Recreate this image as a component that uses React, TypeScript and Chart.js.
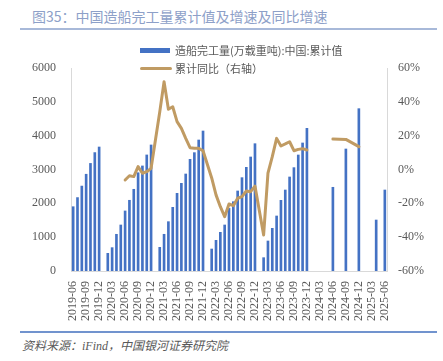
import React, { useEffect, useRef } from "react";
import { Chart, registerables } from "chart.js";

Chart.register(...registerables);

const months: string[] = [
  "2019-06", "2019-07", "2019-08", "2019-09", "2019-10", "2019-11", "2019-12",
  "2020-01", "2020-02", "2020-03", "2020-04", "2020-05", "2020-06", "2020-07", "2020-08", "2020-09", "2020-10", "2020-11", "2020-12",
  "2021-01", "2021-02", "2021-03", "2021-04", "2021-05", "2021-06", "2021-07", "2021-08", "2021-09", "2021-10", "2021-11", "2021-12",
  "2022-01", "2022-02", "2022-03", "2022-04", "2022-05", "2022-06", "2022-07", "2022-08", "2022-09", "2022-10", "2022-11", "2022-12",
  "2023-01", "2023-02", "2023-03", "2023-04", "2023-05", "2023-06", "2023-07", "2023-08", "2023-09", "2023-10", "2023-11", "2023-12",
  "2024-01", "2024-02", "2024-03", "2024-04", "2024-05", "2024-06", "2024-07", "2024-08", "2024-09", "2024-10", "2024-11", "2024-12",
  "2025-01", "2025-02", "2025-03", "2025-04", "2025-05", "2025-06",
];

// 造船完工量(万载重吨):中国:累计值
const completions: (number | null)[] = [
  1900, 2170, 2510, 2860, 3180, 3500, 3665,
  null, 523, 690, 1085, 1360, 1775, 2090, 2415, 2905, 3105, 3430, 3725,
  null, 700, 1085, 1458, 1882, 2296, 2592, 2867, 3301, 3498, 3872, 4138,
  null, 650, 907, 1143, 1360, 1850, 2048, 2365, 2759, 3065, 3370, 3763,
  null, 394, 887, 1261, 1626, 2089, 2394, 2779, 3055, 3429, 3784, 4217,
  null, null, null, null, null, 2474, null, null, 3606, null, null, 4798,
  null, null, null, 1507, null, 2394,
];

// 累计同比（右轴）, %
const yoyGrowth: (number | null)[] = [
  null, null, null, null, null, null, null,
  null, null, null, null, null, -6.2, -3.7, -4.2, 1.7, -2.2, -1.3, 0.7,
  null, 34, 51.9, 35.6, 37.1, 28.3, 24.3, 18.4, 12.9, 12.5, 12.5, 11.1,
  null, -5, -15, -22, -27.9, -20.4, -21.4, -17, -16, -12.7, -13.1, -9.8,
  null, -38.7, -2.2, 7.6, 18.4, 13.9, 15.1, 16.4, 11.1, 11.9, 12.3, 11.5,
  null, null, null, null, null, 18.0, null, null, 17.8, null, null, 13.5,
  null, null, null, null, null, null,
];

const barName = "造船完工量(万载重吨):中国:累计值";
const lineName = "累计同比（右轴）";
const titleText = "图35：中国造船完工量累计值及增速及同比增速";
const sourceText = "资料来源：iFind，中国银河证券研究院";

const BAR_COLOR = "#4472C4";
const LINE_COLOR = "#C09B63";
const TICK_COLOR = "#595959";
const AXIS_COLOR = "#D9D9D9";
const tickFont = { family: "'Liberation Serif', 'Times New Roman', serif", size: 12 };

export default function App() {
  const canvasRef = useRef<HTMLCanvasElement | null>(null);

  useEffect(() => {
    if (!canvasRef.current) return;
    const lineData = months
      .map((m, i) => ({ x: m, y: yoyGrowth[i] }))
      .filter((p) => p.y !== null);

    const chart = new Chart(canvasRef.current, {
      type: "bar",
      data: {
        labels: months,
        datasets: [
          {
            type: "line",
            label: lineName,
            data: lineData as any,
            borderColor: LINE_COLOR,
            backgroundColor: LINE_COLOR,
            borderWidth: 3,
            pointRadius: 0,
            tension: 0,
            spanGaps: 3,
            borderJoinStyle: "round",
            borderCapStyle: "round",
            yAxisID: "y1",
            order: 0,
          } as any,
          {
            type: "bar",
            label: barName,
            data: completions,
            backgroundColor: BAR_COLOR,
            barThickness: 2,
            yAxisID: "y",
            order: 1,
          } as any,
        ],
      },
      options: {
        animation: false,
        responsive: false,
        devicePixelRatio: 1,
        layout: { padding: { top: 68, left: 0, right: 0, bottom: 0 } },
        plugins: {
          legend: { display: false },
          title: { display: false },
          tooltip: { enabled: false },
        },
        scales: {
          x: {
            type: "category",
            offset: true,
            grid: { display: false, drawTicks: false },
            border: { display: true, color: AXIS_COLOR, width: 1 },
            ticks: {
              autoSkip: false,
              maxRotation: 90,
              minRotation: 90,
              padding: 10,
              color: TICK_COLOR,
              font: tickFont,
              callback: (_v: any, idx: number) => (idx % 3 === 0 ? months[idx] : ""),
            },
            afterFit: (s: any) => {
              s.height = 59;
            },
          },
          y: {
            position: "left",
            min: 0,
            max: 6000,
            grid: { display: false, drawTicks: false },
            border: { display: true, color: AXIS_COLOR, width: 1 },
            ticks: {
              stepSize: 1000,
              padding: 15,
              color: TICK_COLOR,
              font: tickFont,
              callback: (v: any) => String(v),
            },
            afterFit: (s: any) => {
              s.width = 71;
            },
          },
          y1: {
            position: "right",
            min: -60,
            max: 60,
            grid: { display: false, drawTicks: false },
            border: { display: true, color: AXIS_COLOR, width: 1 },
            ticks: {
              stepSize: 20,
              padding: 11,
              color: TICK_COLOR,
              font: tickFont,
              callback: (v: any) => `${v}%`,
            },
            afterFit: (s: any) => {
              s.width = 56;
            },
          },
        },
      } as any,
    });
    return () => chart.destroy();
  }, []);

  const cjk = "'Noto Sans CJK SC', 'Noto Sans', sans-serif";

  return (
    <div style={{ position: "absolute", left: 0, top: 0, width: 443, height: 361, background: "#fff", overflow: "hidden" }}>
      <div style={{ position: "absolute", left: 32, top: 7, fontFamily: cjk, fontSize: 14, lineHeight: "18px", color: "#8DA0C8", whiteSpace: "nowrap" }}>
        {titleText}
      </div>
      <div style={{ position: "absolute", left: 20, top: 28, width: 417, height: 2, background: "#A8B9D9" }} />
      <canvas ref={canvasRef} width={443} height={330} style={{ position: "absolute", left: 0, top: 0, width: 443, height: 330 }} />
      <div style={{ position: "absolute", left: 140, top: 48, width: 30, height: 5, background: BAR_COLOR }} />
      <div style={{ position: "absolute", left: 175, top: 43, fontFamily: cjk, fontSize: 11, lineHeight: "15px", color: TICK_COLOR, whiteSpace: "nowrap" }}>
        {barName}
      </div>
      <div style={{ position: "absolute", left: 140, top: 67, width: 32, height: 3, background: LINE_COLOR, borderRadius: 1.5 }} />
      <div style={{ position: "absolute", left: 175, top: 61, fontFamily: cjk, fontSize: 11, lineHeight: "15px", color: TICK_COLOR, whiteSpace: "nowrap" }}>
        {lineName}
      </div>
      <div style={{ position: "absolute", left: 20, top: 331, width: 417, height: 1.5, background: "#7193CE" }} />
      <div style={{ position: "absolute", left: 22, top: 339, fontFamily: "'Liberation Serif', " + cjk, fontStyle: "italic", fontSize: 12, lineHeight: "15px", color: TICK_COLOR, whiteSpace: "nowrap" }}>
        {sourceText}
      </div>
    </div>
  );
}
